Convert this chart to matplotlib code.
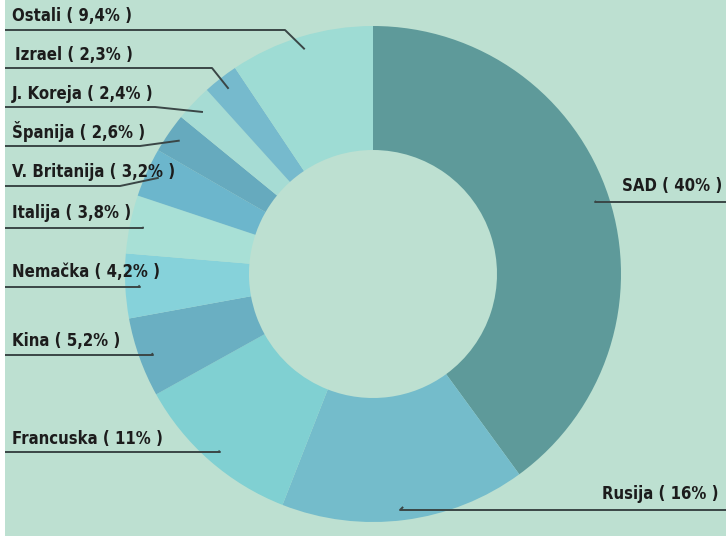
import numpy as np
import matplotlib
matplotlib.use("Agg")
import matplotlib.pyplot as plt
from matplotlib import font_manager

# share of each country, clockwise from the top
labels = ["SAD ( 40% )", "Rusija ( 16% )", "Francuska ( 11% )", "Kina ( 5,2% )",
          "Nemačka ( 4,2% )", "Italija ( 3,8% )", "V. Britanija ( 3,2% )",
          "Španija ( 2,6% )", "J. Koreja ( 2,4% )", "Izrael ( 2,3% )", "Ostali ( 9,4% )"]
shares = [40, 16, 11, 5.2, 4.2, 3.8, 3.2, 2.6, 2.4, 2.3, 9.4]
colors = ["#5e9a9a", "#74bccb", "#80d0d2", "#6aafc2", "#86d2da", "#a8e0d6",
          "#6cb6cc", "#66aabe", "#a6dcd4", "#76bacd", "#9edcd4"]

# label layout (pixels, y from top): text x, text y, underline y, elbow x, side
label_x = [722, 719, 12, 12, 12, 12, 12, 12, 12, 15, 12]
label_y = [186, 494, 439, 341, 272, 213, 172, 132, 94, 55, 16]
line_y = [202, 510, 452, 355, 287, 228, 186, 146, 107, 68, 30]
elbow_x = [595, 400, 220, 153, 140, 143, 120, 140, 155, 212, 285]
right_side = [True, True] + [False] * 9

W, H = 726, 540
bg = "#bde0d1"

# narrow bold face if there is one
narrow = [f for f in font_manager.fontManager.ttflist
          if ("Narrow" in f.name or "Condensed" in f.name or f.stretch == "condensed"
              or "Condensed" in f.fname or "Narrow" in f.fname)
          and f.weight in ("bold", 700, "Bold")]
if narrow:
    fprop = font_manager.FontProperties(fname=narrow[0].fname, size=12)
else:
    fprop = font_manager.FontProperties(family="Liberation Sans", weight="bold", size=11)

fig = plt.figure(figsize=(W / 100, H / 100), dpi=100, facecolor="white")
ax = fig.add_axes([5 / W, 4 / H, 1 - 5 / W, 1 - 4 / H])
ax.set_facecolor(bg)

cx, cy, R = 373, 274, 248
# y axis is inverted, so counterclock=True draws clockwise on screen
wedges, _ = ax.pie(shares, colors=colors, startangle=-90, counterclock=True,
                   center=(cx, cy), radius=R, frame=True,
                   wedgeprops=dict(width=R / 2, linewidth=0))
ax.set_xlim(5, W)
ax.set_ylim(H - 4, 0)
ax.set_aspect("auto")
ax.axis("off")
ax.add_patch(plt.Rectangle((5, 0), W, H, color=bg, zorder=-1))

for i, w in enumerate(wedges):
    mid = np.deg2rad((w.theta1 + w.theta2) / 2)
    ex = cx + 0.947 * R * np.cos(mid)
    ey = cy + 0.947 * R * np.sin(mid)
    ly = line_y[i]
    if right_side[i]:
        ax.plot([ex, elbow_x[i], W], [ey, ly, ly], color="#3a4646", lw=1.4,
                solid_capstyle="butt", zorder=3)
        ax.text(label_x[i], label_y[i], labels[i], ha="right", va="center",
                fontproperties=fprop, color="#1c1c1c")
    else:
        ax.plot([5, elbow_x[i], ex], [ly, ly, ey], color="#3a4646", lw=1.4,
                solid_capstyle="butt", zorder=3)
        ax.text(label_x[i], label_y[i], labels[i], ha="left", va="center",
                fontproperties=fprop, color="#1c1c1c")

fig.savefig("out.png", dpi=100, facecolor="white")
